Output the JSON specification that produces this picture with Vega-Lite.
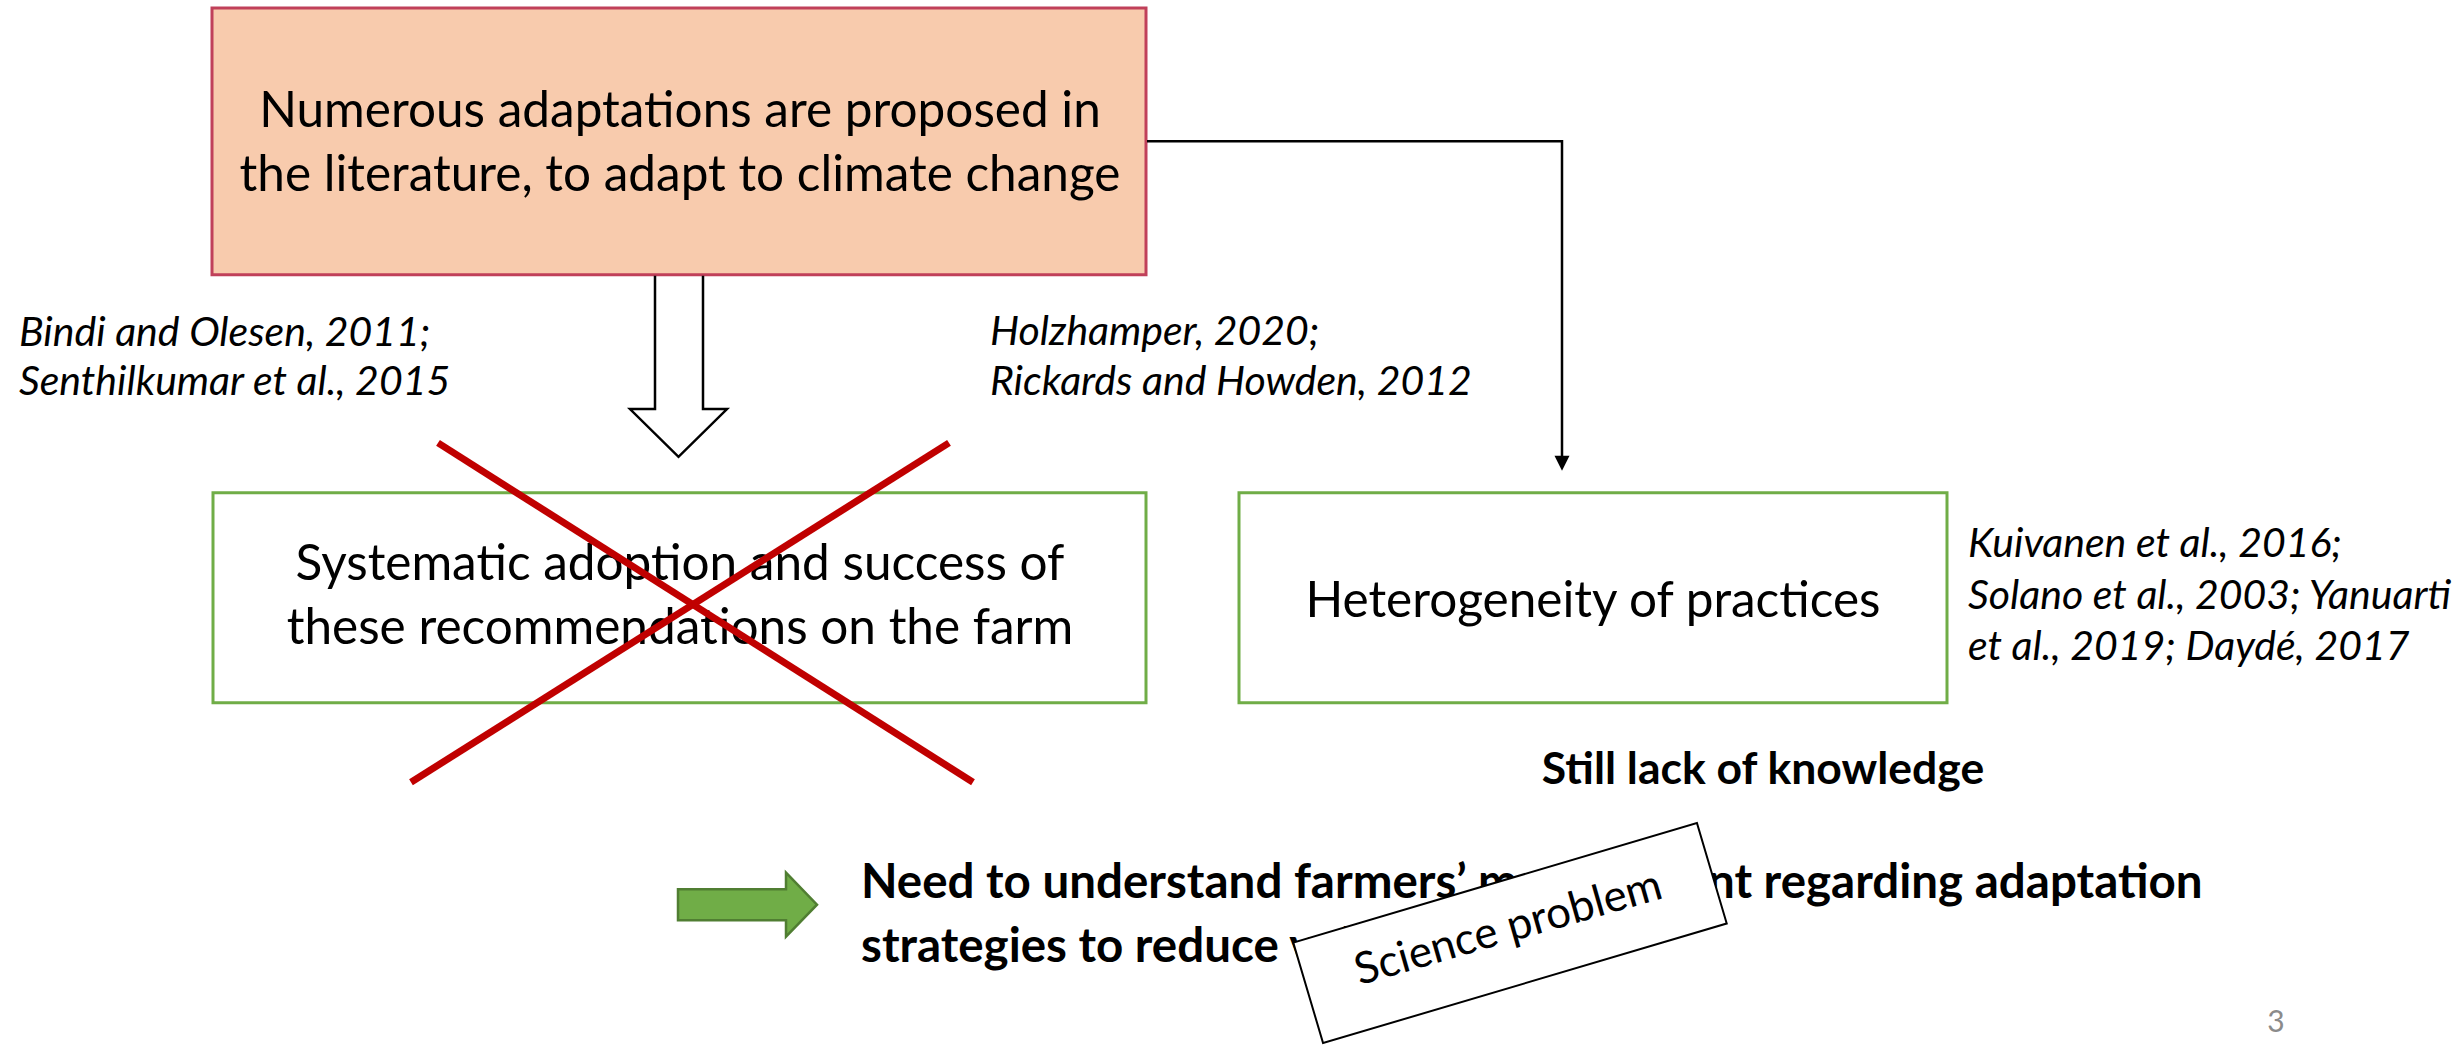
{
  "$schema": "https://vega.github.io/schema/vega-lite/v6.json",
  "width": 2461,
  "height": 1047,
  "autosize": {"type": "fit", "contains": "padding"},
  "padding": 0,
  "background": "white",
  "config": {"view": {"stroke": null}},
  "datasets": {
    "boxes": [
      {"name": "proposed", "x": 212, "x2": 1146, "y": 8, "y2": 276},
      {"name": "adoption", "x": 213, "x2": 1146, "y": 495, "y2": 706},
      {"name": "heterogeneity", "x": 1239, "x2": 1947, "y": 495, "y2": 706}
    ],
    "paths": [
      {"path": "hollow", "i": 0, "x": 655, "y": 277},
      {"path": "hollow", "i": 1, "x": 655, "y": 411},
      {"path": "hollow", "i": 2, "x": 630, "y": 411},
      {"path": "hollow", "i": 3, "x": 678.5, "y": 459},
      {"path": "hollow", "i": 4, "x": 727, "y": 411},
      {"path": "hollow", "i": 5, "x": 703, "y": 411},
      {"path": "hollow", "i": 6, "x": 703, "y": 277},
      {"path": "connector", "i": 0, "x": 1147, "y": 142},
      {"path": "connector", "i": 1, "x": 1562, "y": 142},
      {"path": "connector", "i": 2, "x": 1562, "y": 462}
    ],
    "heads": [
      {"x": 1562, "y": 465.5}
    ],
    "cross": [
      {"x": 438, "y": 445, "x2": 973, "y2": 786},
      {"x": 949, "y": 445, "x2": 411, "y2": 786}
    ],
    "boxtext": [
      {"t": "Numerous adaptations are proposed in", "x": 680, "y": 128},
      {"t": "the literature, to adapt to climate change", "x": 680, "y": 192},
      {"t": "Systematic adoption and success of", "x": 680, "y": 583},
      {"t": "these recommendations on the farm", "x": 680, "y": 647},
      {"t": "Heterogeneity of practices", "x": 1593, "y": 620}
    ],
    "refs": [
      {"t": "Bindi and Olesen, 2011;", "x": 19, "y": 348},
      {"t": "Senthilkumar et al., 2015", "x": 19, "y": 397},
      {"t": "Holzhamper, 2020;", "x": 990, "y": 347},
      {"t": "Rickards and Howden, 2012", "x": 990, "y": 397},
      {"t": "Kuivanen et al., 2016;", "x": 1968, "y": 560},
      {"t": "Solano et al., 2003; Yanuarti", "x": 1968, "y": 612},
      {"t": "et al., 2019; Daydé, 2017", "x": 1968, "y": 663}
    ],
    "green": [
      {"x": 747.5, "y": 909}
    ],
    "need": [
      {"t": "Need to understand farmers’ management regarding adaptation", "x": 861, "y": 902},
      {"t": "strategies to reduce vulnerability", "x": 861, "y": 967}
    ],
    "lack": [
      {"t": "Still lack of knowledge", "x": 1763, "y": 788}
    ],
    "science": [
      {"t": "Science problem", "x": 1510, "y": 937.5, "tx": 1512, "ty": 946}
    ],
    "page": [
      {"t": "3", "x": 2276, "y": 1037}
    ]
  },
  "encoding": {
    "x": {"field": "x", "type": "quantitative", "scale": {"domain": [0, 2461], "nice": false, "zero": false}, "axis": null},
    "y": {"field": "y", "type": "quantitative", "scale": {"domain": [0, 1047], "nice": false, "zero": false, "reverse": true}, "axis": null}
  },
  "layer": [
    {
      "data": {"name": "boxes"},
      "mark": {"type": "rect", "strokeWidth": 3},
      "encoding": {
        "x2": {"field": "x2"},
        "y2": {"field": "y2"},
        "fill": {"field": "name", "type": "nominal", "scale": {"domain": ["proposed", "adoption", "heterogeneity"], "range": ["#F8CBAD", "#FFFFFF", "#FFFFFF"]}, "legend": null},
        "stroke": {"field": "name", "type": "nominal", "scale": {"domain": ["proposed", "adoption", "heterogeneity"], "range": ["#C0405A", "#70AD47", "#70AD47"]}, "legend": null}
      }
    },
    {
      "data": {"name": "paths"},
      "mark": {"type": "line", "color": "black", "strokeWidth": 2.5, "strokeJoin": "miter"},
      "encoding": {
        "detail": {"field": "path", "type": "nominal"},
        "order": {"field": "i", "type": "quantitative"}
      }
    },
    {
      "data": {"name": "heads"},
      "mark": {"type": "point", "shape": "M-1,-1L1,-1L0,1Z", "size": 225, "filled": true, "fill": "black", "strokeWidth": 0, "opacity": 1},
      "encoding": {}
    },
    {
      "data": {"name": "boxtext"},
      "mark": {"type": "text", "font": "Lato", "fontSize": 49.5, "align": "center", "baseline": "alphabetic", "color": "black"},
      "encoding": {"text": {"field": "t"}}
    },
    {
      "data": {"name": "refs"},
      "mark": {"type": "text", "font": "Lato", "fontSize": 41, "fontStyle": "italic", "align": "left", "baseline": "alphabetic", "color": "black"},
      "encoding": {"text": {"field": "t"}}
    },
    {
      "data": {"name": "cross"},
      "mark": {"type": "rule", "color": "#C00000", "strokeWidth": 7},
      "encoding": {"x2": {"field": "x2"}, "y2": {"field": "y2"}}
    },
    {
      "data": {"name": "lack"},
      "mark": {"type": "text", "font": "Lato", "fontSize": 44.5, "fontWeight": "bold", "align": "center", "baseline": "alphabetic", "color": "black"},
      "encoding": {"text": {"field": "t"}}
    },
    {
      "data": {"name": "green"},
      "mark": {"type": "point", "shape": "M-1,-0.223L0.554,-0.223L0.554,-0.46L1,0L0.554,0.46L0.554,0.223L-1,0.223Z", "size": 19321, "filled": true, "fill": "#70AD47", "stroke": "#507E32", "strokeWidth": 2.5, "opacity": 1},
      "encoding": {}
    },
    {
      "data": {"name": "need"},
      "mark": {"type": "text", "font": "Lato", "fontSize": 47.5, "fontWeight": "bold", "align": "left", "baseline": "alphabetic", "color": "black"},
      "encoding": {"text": {"field": "t"}}
    },
    {
      "data": {"name": "science"},
      "mark": {"type": "point", "shape": "M-1,-0.249L1,-0.249L1,0.249L-1,0.249Z", "size": 177241, "angle": 343.5, "filled": true, "fill": "white", "stroke": "black", "strokeWidth": 2, "opacity": 1},
      "encoding": {}
    },
    {
      "data": {"name": "science"},
      "mark": {"type": "text", "font": "Lato", "fontSize": 44, "angle": 344, "align": "center", "baseline": "alphabetic", "color": "black"},
      "encoding": {
        "x": {"field": "tx", "type": "quantitative"},
        "y": {"field": "ty", "type": "quantitative"},
        "text": {"field": "t"}
      }
    },
    {
      "data": {"name": "page"},
      "mark": {"type": "text", "font": "Lato", "fontSize": 30, "align": "center", "baseline": "alphabetic", "color": "#8B8B8B"},
      "encoding": {"text": {"field": "t"}}
    }
  ]
}
